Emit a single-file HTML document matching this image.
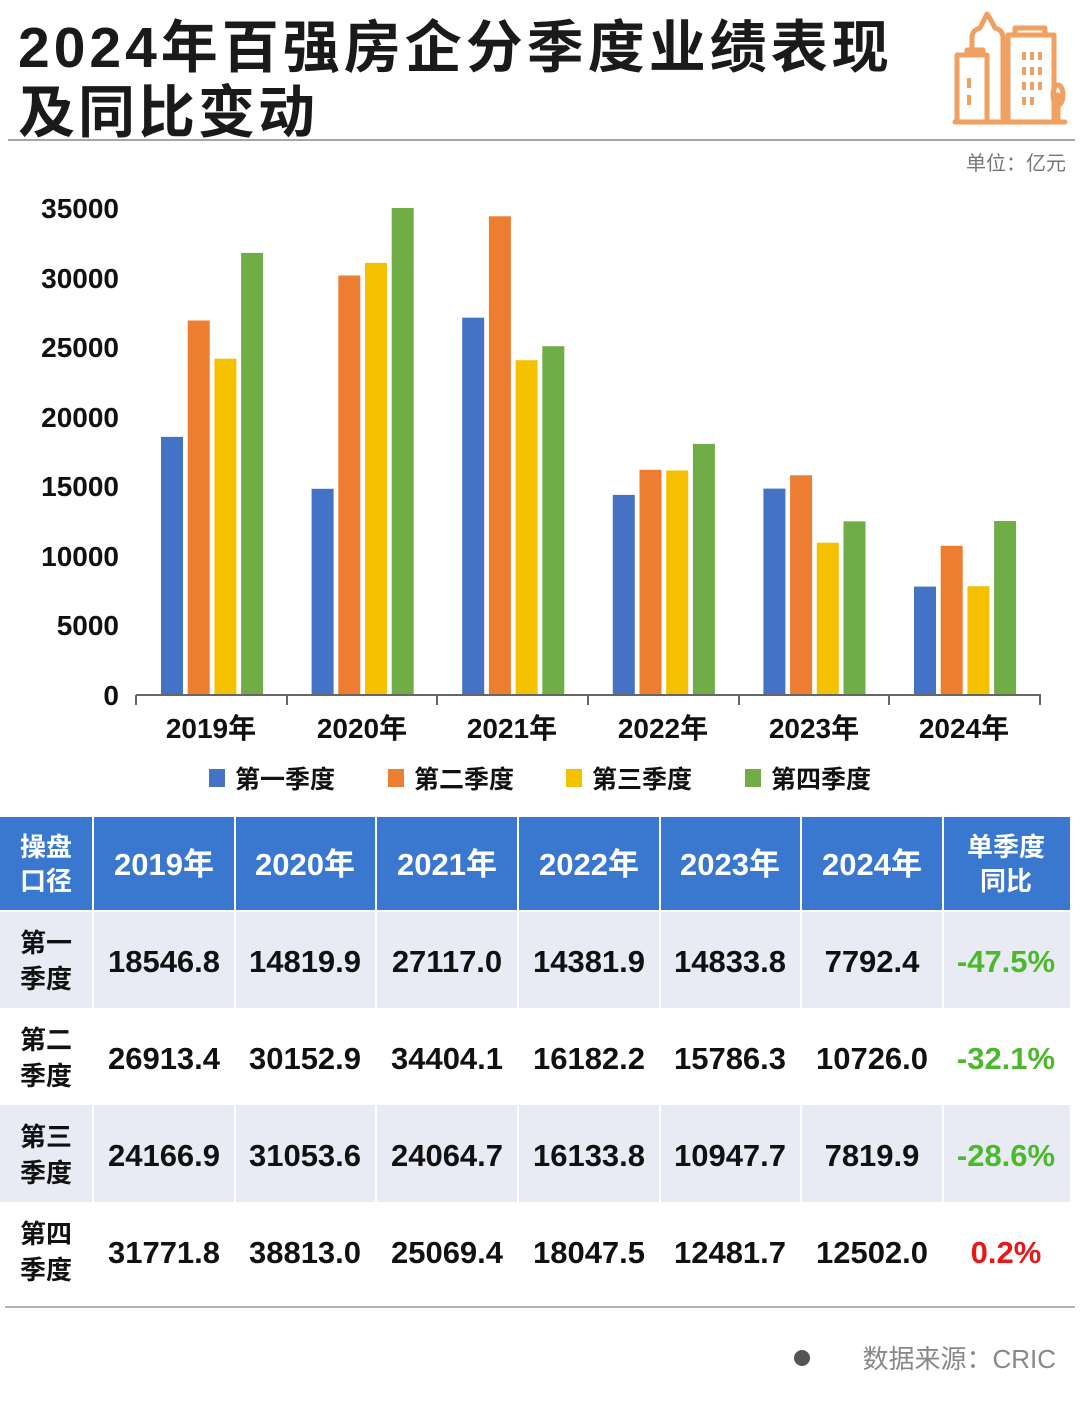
<!DOCTYPE html>
<html><head><meta charset="utf-8"><style>
body{margin:0;background:#fff;}
svg text{font-family:"Liberation Sans","Noto Sans CJK SC",sans-serif;}
</style></head><body>
<svg width="1080" height="1412" viewBox="0 0 1080 1412" xmlns="http://www.w3.org/2000/svg">
<rect width="1080" height="1412" fill="#fff"/>
<text x="18" y="67" font-size="57" font-weight="bold" fill="#1a1a1a" letter-spacing="4">2024年百强房企分季度业绩表现</text>
<text x="18" y="132" font-size="57" font-weight="bold" fill="#1a1a1a" letter-spacing="3">及同比变动</text>
<line x1="8" y1="140" x2="1075" y2="140" stroke="#888" stroke-width="1.5"/>
<g fill="none" stroke="#f0a060" stroke-width="5" stroke-linecap="round" stroke-linejoin="round">
<path d="M955 122 H1065"/>
<rect x="957" y="55" width="30" height="67"/>
<path d="M967 55 V50 H983 V55"/>
<path d="M972 48 V38 Q972 30 980 28 Q985 18 987 14 Q990 18 995 28 Q1003 30 1003 38 V122"/>
<rect x="1008" y="35" width="46" height="87"/>
<path d="M1015 35 V28 H1045 V35"/>
<path d="M1058 120 V95"/><ellipse cx="1058" cy="95" rx="5" ry="10"/>
</g>
<g fill="#f0a060">
<rect x="967" y="78" width="4" height="10"/><rect x="967" y="95" width="4" height="10"/>
<rect x="1022" y="52" width="4" height="8"/><rect x="1030" y="52" width="4" height="8"/><rect x="1038" y="52" width="4" height="8"/>
<rect x="1022" y="67" width="4" height="8"/><rect x="1030" y="67" width="4" height="8"/><rect x="1038" y="67" width="4" height="8"/>
<rect x="1022" y="82" width="4" height="8"/><rect x="1030" y="82" width="4" height="8"/><rect x="1038" y="82" width="4" height="8"/>
<rect x="1022" y="97" width="4" height="8"/><rect x="1030" y="97" width="4" height="8"/>
</g>
<text x="1066" y="170" font-size="20" fill="#777" text-anchor="end">单位：亿元</text>
<g font-size="28" font-weight="bold" fill="#111" text-anchor="end">
<text x="119" y="218">35000</text><text x="119" y="288">30000</text><text x="119" y="357">25000</text>
<text x="119" y="427">20000</text><text x="119" y="496">15000</text><text x="119" y="566">10000</text>
<text x="119" y="635">5000</text><text x="119" y="705">0</text>
</g>
<g>
<g fill="#4472c4">
<rect x="161" y="436.9" width="22" height="258.1"/><rect x="311.6" y="488.8" width="22" height="206.2"/>
<rect x="462.2" y="317.7" width="22" height="377.3"/><rect x="612.8" y="494.9" width="22" height="200.1"/>
<rect x="763.4" y="488.6" width="22" height="206.4"/><rect x="914" y="586.6" width="22" height="108.4"/>
</g>
<g fill="#ed7d31">
<rect x="187.7" y="320.5" width="22" height="374.5"/><rect x="338.3" y="275.5" width="22" height="419.5"/>
<rect x="488.9" y="216.3" width="22" height="478.7"/><rect x="639.5" y="469.8" width="22" height="225.2"/>
<rect x="790.1" y="475.3" width="22" height="219.7"/><rect x="940.7" y="545.8" width="22" height="149.2"/>
</g>
<g fill="#f5c000">
<rect x="214.4" y="358.7" width="22" height="336.3"/><rect x="365" y="262.9" width="22" height="432.1"/>
<rect x="515.6" y="360.2" width="22" height="334.8"/><rect x="666.2" y="470.5" width="22" height="224.5"/>
<rect x="816.8" y="542.7" width="22" height="152.3"/><rect x="967.4" y="586.2" width="22" height="108.8"/>
</g>
<g fill="#70ad47">
<rect x="241.1" y="252.9" width="22" height="442.1"/><rect x="391.7" y="208" width="22" height="487"/>
<rect x="542.3" y="346.2" width="22" height="348.8"/><rect x="692.9" y="443.9" width="22" height="251.1"/>
<rect x="843.5" y="521.3" width="22" height="173.7"/><rect x="994.1" y="521" width="22" height="174"/>
</g>
</g>
<g stroke="#666" stroke-width="2">
<line x1="136" y1="695" x2="1041" y2="695"/>
<line x1="136" y1="695" x2="136" y2="705"/><line x1="287" y1="695" x2="287" y2="705"/>
<line x1="437" y1="695" x2="437" y2="705"/><line x1="588" y1="695" x2="588" y2="705"/>
<line x1="739" y1="695" x2="739" y2="705"/><line x1="889" y1="695" x2="889" y2="705"/>
<line x1="1040" y1="695" x2="1040" y2="705"/>
</g>
<g font-size="28" font-weight="bold" fill="#111" text-anchor="middle">
<text x="211" y="738">2019年</text><text x="362" y="738">2020年</text><text x="512" y="738">2021年</text>
<text x="663" y="738">2022年</text><text x="814" y="738">2023年</text><text x="964" y="738">2024年</text>
</g>
<g font-size="25" font-weight="bold" fill="#111">
<rect x="209" y="769" width="16" height="18" fill="#4472c4"/><text x="235" y="788">第一季度</text>
<rect x="388" y="769" width="16" height="18" fill="#ed7d31"/><text x="414" y="788">第二季度</text>
<rect x="566" y="769" width="16" height="18" fill="#f5c000"/><text x="592" y="788">第三季度</text>
<rect x="745" y="769" width="16" height="18" fill="#70ad47"/><text x="771" y="788">第四季度</text>
</g>
<rect x="0" y="817" width="1070" height="94" fill="#3a78d0"/>
<rect x="0" y="911" width="1070" height="97" fill="#e9ebf4"/>
<rect x="0" y="1105" width="1070" height="97" fill="#e9ebf4"/>
<g stroke="#fff" stroke-width="2">
<line x1="93" y1="817" x2="93" y2="1300"/><line x1="235" y1="817" x2="235" y2="1300"/>
<line x1="376" y1="817" x2="376" y2="1300"/><line x1="518" y1="817" x2="518" y2="1300"/>
<line x1="660" y1="817" x2="660" y2="1300"/><line x1="801" y1="817" x2="801" y2="1300"/>
<line x1="943" y1="817" x2="943" y2="1300"/>
<line x1="0" y1="911" x2="1070" y2="911"/>
</g>
<line x1="5" y1="1307" x2="1075" y2="1307" stroke="#999" stroke-width="1.5"/>
<g font-size="26" font-weight="bold" fill="#fff" text-anchor="middle">
<text x="46" y="856">操盘</text><text x="46" y="890">口径</text>
<text x="1006" y="856">单季度</text><text x="1006" y="890">同比</text>
</g>
<g font-size="31" font-weight="bold" fill="#fff" text-anchor="middle">
<text x="164" y="875">2019年</text><text x="305" y="875">2020年</text><text x="447" y="875">2021年</text>
<text x="589" y="875">2022年</text><text x="730" y="875">2023年</text><text x="872" y="875">2024年</text>
</g>
<g font-size="26" font-weight="bold" fill="#111" text-anchor="middle">
<text x="46" y="952">第一</text><text x="46" y="988">季度</text>
<text x="46" y="1049">第二</text><text x="46" y="1085">季度</text>
<text x="46" y="1146">第三</text><text x="46" y="1182">季度</text>
<text x="46" y="1243">第四</text><text x="46" y="1279">季度</text>
</g>
<g font-size="31" font-weight="bold" fill="#111" text-anchor="middle">
<text x="164" y="972">18546.8</text><text x="305" y="972">14819.9</text><text x="447" y="972">27117.0</text><text x="589" y="972">14381.9</text><text x="730" y="972">14833.8</text><text x="872" y="972">7792.4</text>
<text x="164" y="1069">26913.4</text><text x="305" y="1069">30152.9</text><text x="447" y="1069">34404.1</text><text x="589" y="1069">16182.2</text><text x="730" y="1069">15786.3</text><text x="872" y="1069">10726.0</text>
<text x="164" y="1166">24166.9</text><text x="305" y="1166">31053.6</text><text x="447" y="1166">24064.7</text><text x="589" y="1166">16133.8</text><text x="730" y="1166">10947.7</text><text x="872" y="1166">7819.9</text>
<text x="164" y="1263">31771.8</text><text x="305" y="1263">38813.0</text><text x="447" y="1263">25069.4</text><text x="589" y="1263">18047.5</text><text x="730" y="1263">12481.7</text><text x="872" y="1263">12502.0</text>
</g>
<g font-size="31" font-weight="bold" text-anchor="middle">
<text x="1006" y="972" fill="#4cb82c">-47.5%</text>
<text x="1006" y="1069" fill="#4cb82c">-32.1%</text>
<text x="1006" y="1166" fill="#4cb82c">-28.6%</text>
<text x="1006" y="1263" fill="#e81818">0.2%</text>
</g>
<circle cx="802" cy="1358" r="8" fill="#555"/>
<text x="1056" y="1368" font-size="26" fill="#888" text-anchor="end">数据来源：CRIC</text>
</svg>
</body></html>
